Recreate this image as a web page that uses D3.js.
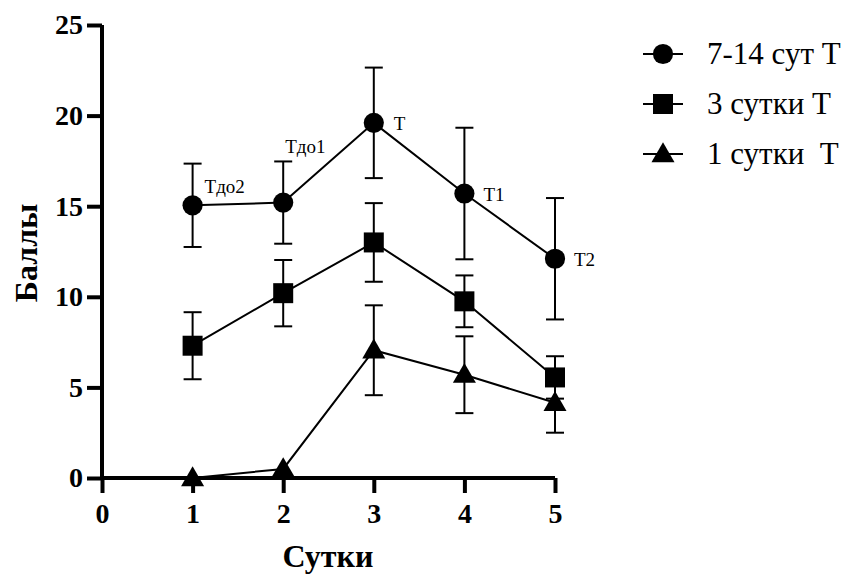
<!DOCTYPE html>
<html><head><meta charset="utf-8">
<script src="https://cdn.jsdelivr.net/npm/d3@7"></script>
<style>body{margin:0;background:#fff}svg{display:block}svg text{font-family:"Liberation Serif","Times New Roman",serif !important}</style>
</head><body><svg id="c" width="847" height="577"></svg>
<script>
const days = [1, 2, 3, 4, 5];
const seriesNames = ["7-14 сут Т", "3 сутки Т", "1 сутки  Т"];
const meanLong = [15.05, 15.2, 19.6, 15.7, 12.1];
const errLong = [2.3, 2.27, 3.05, 3.63, 3.35];
const mean3 = [7.3, 10.2, 13.0, 9.75, 5.55];
const err3 = [1.85, 1.83, 2.17, 1.43, 1.17];
const mean1 = [0, 0.5, 7.05, 5.7, 4.15];
const err1 = [0, 0, 2.48, 2.12, 1.65];
const pointLabels = ["Тдо2", "Тдо1", "Т", "Т1", "Т2"];
const xTicks = [0, 1, 2, 3, 4, 5];
const yTicks = [0, 5, 10, 15, 20, 25];
const xTitle = "Сутки", yTitle = "Баллы";

const FONT = "Liberation Serif";
const svg = d3.select("#c");
const x = d3.scaleLinear().domain([0, 5]).range([102, 555]);
const y = d3.scaleLinear().domain([0, 25]).range([478, 25]);

const series = [
  {name: seriesNames[0], mean: meanLong, err: errLong, sym: d3.symbolCircle, size: 320},
  {name: seriesNames[1], mean: mean3, err: err3, sym: d3.symbolSquare, size: 400},
  {name: seriesNames[2], mean: mean1, err: err1, sym: d3.symbolTriangle, size: 230}
];

// axes
const yAxis = svg.append("g").attr("transform", `translate(${x(0)},0)`)
  .call(d3.axisLeft(y).tickValues(yTicks).tickFormat(d3.format("d")).tickSize(15).tickSizeOuter(0).tickPadding(4));
const xAxis = svg.append("g").attr("transform", `translate(0,${y(0)})`)
  .call(d3.axisBottom(x).tickValues(xTicks).tickFormat(d3.format("d")).tickSize(15).tickSizeOuter(0).tickPadding(10));
[xAxis, yAxis].forEach(a => {
  a.attr("font-family", FONT);
  a.selectAll("path,line").attr("stroke", "#000").attr("stroke-width", 4);
  a.selectAll("text").attr("font-size", 28).attr("font-weight", "bold").attr("fill", "#000")
    .attr("font-family", FONT);
});
yAxis.select(".domain").attr("d", `M0,${y(25)}V${y(0) + 2}`);
xAxis.select(".domain").attr("d", `M${x(0) - 2},0H${x(5)}`);

svg.append("text").attr("x", 328).attr("y", 567).attr("text-anchor", "middle").attr("font-family", FONT)
  .attr("font-size", 32).attr("font-weight", "bold").attr("fill", "#000").text(xTitle);
svg.append("text").attr("transform", "translate(37,253) rotate(-90)").attr("text-anchor", "middle").attr("font-family", FONT)
  .attr("font-size", 32).attr("font-weight", "bold").attr("fill", "#000").text(yTitle);

const line = d3.line().x((d, i) => x(days[i])).y(d => y(d));

series.forEach(s => {
  const g = svg.append("g");
  days.forEach((d, i) => {
    if (s.err[i] <= 0) return;
    const cx = x(d), top = y(s.mean[i] + s.err[i]), bot = y(s.mean[i] - s.err[i]);
    g.append("line").attr("x1", cx).attr("x2", cx).attr("y1", top).attr("y2", bot)
      .attr("stroke", "#000").attr("stroke-width", 2);
    [top, bot].forEach(yy => g.append("line").attr("x1", cx - 9).attr("x2", cx + 9)
      .attr("y1", yy).attr("y2", yy).attr("stroke", "#000").attr("stroke-width", 2));
  });
  g.append("path").attr("d", line(s.mean)).attr("fill", "none").attr("stroke", "#000").attr("stroke-width", 2);
  g.selectAll(".m").data(s.mean).join("path")
    .attr("transform", (d, i) => `translate(${x(days[i])},${y(d) + (s.sym === d3.symbolTriangle ? 1.5 : 0)})`)
    .attr("d", d3.symbol().type(s.sym).size(s.size)).attr("fill", "#000");
});

// point labels on top series
const labOff = [[12, -12], [2, -50], [20, 7], [19, 7], [19, 7]];
pointLabels.forEach((t, i) => {
  svg.append("text").attr("x", x(days[i]) + labOff[i][0]).attr("y", y(meanLong[i]) + labOff[i][1])
    .attr("font-family", FONT).attr("font-size", 19).attr("fill", "#000").text(t);
});

// legend
series.forEach((s, i) => {
  const ly = 54 + i * 50;
  const g = svg.append("g").attr("transform", `translate(663,${ly})`);
  g.append("line").attr("x1", -20).attr("x2", 20).attr("stroke", "#000").attr("stroke-width", 2);
  g.append("path").attr("d", d3.symbol().type(s.sym).size(s.size)).attr("fill", "#000")
    .attr("transform", s.sym === d3.symbolTriangle ? "translate(0,1.5)" : null);
  g.append("text").attr("x", 44).attr("y", 10).attr("font-family", FONT).attr("font-size", 31)
    .attr("fill", "#000").style("white-space", "pre").text(s.name);
});
</script></body></html>
